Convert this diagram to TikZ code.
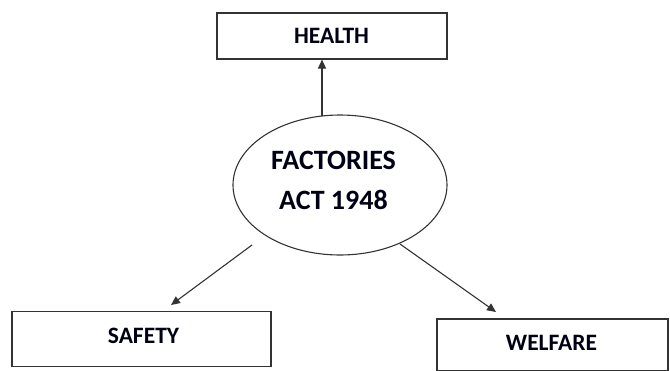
\documentclass[tikz,border=0pt]{standalone}
\usepackage{fontspec}
\setmainfont{Carlito}
\usetikzlibrary{arrows.meta,shapes.geometric}
\begin{document}
\begin{tikzpicture}[x=1pt,y=-1pt,
  box/.style={draw=black!80,line width=1.1pt,rectangle,inner sep=0pt},
  lbl/.style={font=\bfseries\fontsize{23.5}{28}\selectfont,text=black!92!blue,inner sep=0pt},
  conn/.style={draw=black!80,line width=1.1pt,-{Triangle[length=9pt,width=8pt]}}]
\useasboundingbox (0,0) rectangle (670,370);
\node[box,minimum width=230pt,minimum height=46pt] (health) at (332,36) {};
\node[lbl] (thealth) at (331.5,36) {HEALTH};
\node[box,draw,ellipse,minimum width=214pt,minimum height=140pt] (fact) at (340,185) {};
\node[font=\bfseries\fontsize{28}{40}\selectfont,align=center,text=black!92!blue,inner sep=0pt] (tfact) at (333.5,180) {FACTORIES\\ACT 1948};
\node[box,minimum width=259pt,minimum height=55pt] (safety) at (141.5,339) {};
\node[lbl] (tsafety) at (143.5,336) {SAFETY};
\node[box,minimum width=231pt,minimum height=52pt] (welfare) at (552.5,345) {};
\node[lbl] (twelfare) at (551.5,342.5) {WELFARE};
\coordinate (a1) at (322,116);
\coordinate (a2) at (252,245);
\coordinate (a3) at (400,244);
\coordinate (t2) at (171,305);
\coordinate (t3) at (496,312);
\draw[conn] (a1) -- (a1 |- health.south);
\draw[conn] (a2) -- (t2);
\draw[conn] (a3) -- (t3);
\end{tikzpicture}
\end{document}
